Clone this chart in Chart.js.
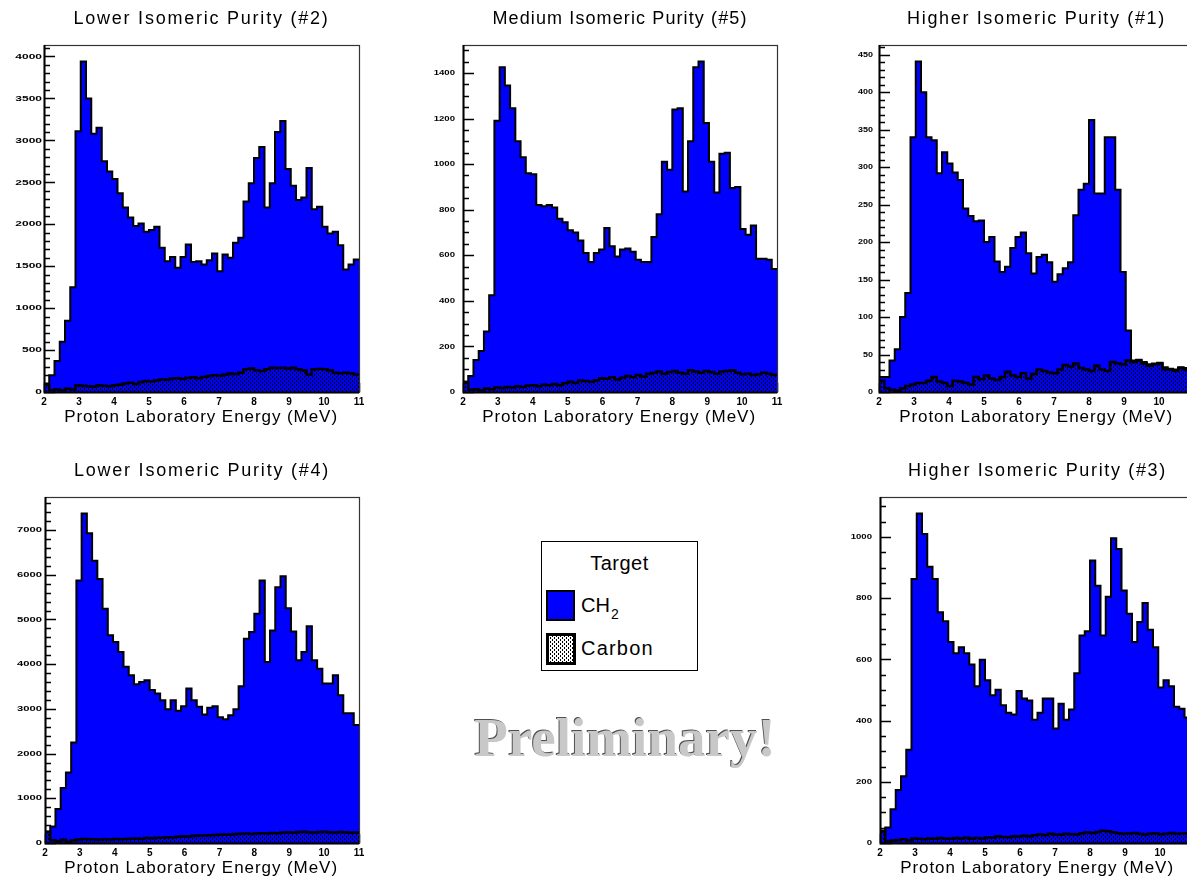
<!DOCTYPE html>
<html>
<head>
<meta charset="utf-8">
<title>Proton spectra by isomeric purity</title>
<script src="https://cdn.jsdelivr.net/npm/chart.js@4.4.0/dist/chart.umd.min.js"></script>
<style>
    html, body { margin: 0; padding: 0; background: #fff; overflow: hidden; }
    #page { position: relative; width: 1187px; height: 882px; overflow: hidden; background: #fff; }
    canvas.panel { position: absolute; }
    .lg { position: absolute; font-family: Arial, "Liberation Sans", sans-serif; font-size: 20px; color: #000; line-height: 24px; white-space: nowrap; }
    #legend-box { position: absolute; left: 541px; top: 541px; width: 157px; height: 130px; box-sizing: border-box; border: 1.5px solid #000; }
    #sw-ch2 { position: absolute; left: 546px; top: 590px; width: 29px; height: 31px; box-sizing: border-box; background: #0000ff; border: 2px solid #000; }
    #sw-carbon { position: absolute; left: 546px; top: 633px; }
    #prelim { position: absolute; left: 380px; width: 490px; top: 708px; text-align: center; font-family: "Liberation Serif", "DejaVu Serif", serif; font-weight: bold; font-size: 55px; line-height: 60px; color: #c8c8c8; text-shadow: -1px -1px 0 #505050; }
</style>
</head>
<body>
<div id="page">
    <canvas id="c1" class="panel" width="400" height="440" style="left:0px;top:0px"></canvas>
    <canvas id="c2" class="panel" width="400" height="440" style="left:415px;top:0px"></canvas>
    <canvas id="c3" class="panel" width="400" height="440" style="left:835px;top:0px"></canvas>
    <canvas id="c4" class="panel" width="400" height="432" style="left:0px;top:450px"></canvas>
    <canvas id="c6" class="panel" width="400" height="432" style="left:835px;top:450px"></canvas>

    <div id="legend-box"></div>
    <div class="lg" style="left:541px;width:157px;text-align:center;top:551px;letter-spacing:0.5px">Target</div>
    <div id="sw-ch2"></div>
    <div class="lg" style="left:581px;top:593px">CH<span style="font-size:14px;position:relative;top:7px;left:1px">2</span></div>
    <canvas id="sw-carbon" width="30" height="32"></canvas>
    <div class="lg" style="left:581px;top:636px;letter-spacing:1.2px">Carbon</div>

    <div id="prelim">Preliminary!</div>
</div>

<script>
// ==========================================
// 1. DATA: 60 bins of 0.15 MeV from 2 to 11 MeV
// ==========================================

const energyMin = 2;
const energyMax = 11;
const nBins = 60;
const energyTicks = [2, 3, 4, 5, 6, 7, 8, 9, 10, 11];

// Lower isomeric purity (#2)
const ch2Purity2 = [100, 200, 370, 600, 850, 1250, 3110, 3940, 3500, 3080,
    3150, 2750, 2630, 2540, 2370, 2200, 2080, 1980, 2010, 1910,
    1930, 1970, 1720, 1560, 1610, 1480, 1610, 1760, 1550, 1560,
    1520, 1570, 1650, 1440, 1640, 1600, 1780, 1840, 2270, 2490,
    2790, 2920, 2200, 2490, 3100, 3230, 2660, 2460, 2290, 2320,
    2670, 2180, 2210, 1970, 1890, 1910, 1750, 1460, 1520, 1580];
const carbonPurity2 = [90, 20, 30, 20, 40, 30, 80, 75, 70, 65,
    80, 75, 70, 80, 85, 100, 110, 95, 120, 130,
    125, 140, 150, 145, 160, 165, 155, 170, 175, 165,
    180, 190, 200, 195, 210, 220, 215, 230, 270, 280,
    260, 250, 270, 290, 285, 290, 280, 290, 270, 260,
    210, 270, 275, 270, 260, 230, 225, 230, 220, 210];
const yTicksPurity2 = [0, 500, 1000, 1500, 2000, 2500, 3000, 3500, 4000];

// Medium isomeric purity (#5)
const ch2Purity5 = [45, 70, 140, 180, 265, 425, 1190, 1425, 1345, 1245,
    1100, 1030, 960, 955, 820, 815, 820, 810, 760, 745,
    710, 700, 665, 610, 570, 610, 625, 720, 640, 595,
    625, 630, 615, 580, 570, 570, 680, 780, 1010, 975,
    1240, 1245, 880, 1100, 1425, 1450, 1180, 1010, 875, 1045,
    1050, 895, 900, 715, 690, 730, 585, 585, 580, 540];
const carbonPurity5 = [40, 10, 12, 8, 15, 12, 20, 18, 22, 20,
    25, 22, 28, 30, 25, 32, 30, 35, 30, 38,
    45, 40, 50, 48, 45, 52, 60, 58, 65, 55,
    62, 70, 65, 75, 68, 80, 85, 90, 80, 88,
    92, 85, 80, 95, 90, 85, 92, 88, 80, 90,
    92, 95, 85, 78, 80, 75, 78, 85, 80, 75];
const yTicksPurity5 = [0, 200, 400, 600, 800, 1000, 1200, 1400];

// Higher isomeric purity (#1)
const ch2Purity1 = [20, 20, 42, 57, 100, 132, 340, 441, 400, 340,
    336, 292, 320, 305, 293, 283, 245, 235, 228, 229,
    200, 207, 174, 160, 167, 192, 207, 213, 185, 158,
    180, 183, 173, 147, 157, 165, 173, 236, 270, 278,
    363, 265, 265, 340, 340, 270, 160, 82, 42, 43,
    40, 37, 38, 39, 33, 31, 30, 33, 32, 30];
const carbonPurity1 = [15, 5, 3, 2, 5, 8, 10, 12, 12, 15,
    20, 14, 12, 8, 15, 14, 12, 10, 20, 17,
    22, 18, 16, 20, 27, 22, 20, 25, 18, 24,
    30, 28, 26, 25, 30, 36, 34, 38, 32, 30,
    28, 35, 30, 28, 40, 38, 37, 42, 40, 42,
    38, 35, 37, 38, 30, 30, 28, 32, 30, 29];
const yTicksPurity1 = [0, 50, 100, 150, 200, 250, 300, 350, 400, 450];

// Lower isomeric purity (#4)
const ch2Purity4 = [250, 370, 760, 1230, 1575, 2245, 5870, 7370, 6930, 6315,
    5905, 5240, 4645, 4495, 4270, 3940, 3750, 3550, 3600, 3640,
    3420, 3345, 3195, 2990, 3195, 2960, 3060, 3455, 3195, 3045,
    2875, 3025, 3060, 2810, 2765, 2860, 2990, 3505, 4570, 4720,
    5125, 5870, 4050, 4755, 5720, 5965, 5250, 4730, 4085, 4270,
    4845, 4085, 3900, 3565, 3565, 3750, 3305, 2900, 2900, 2640];
const carbonPurity4 = [250, 60, 40, 70, 30, 60, 80, 90, 85, 80,
    75, 85, 80, 90, 85, 90, 95, 100, 90, 110,
    105, 115, 120, 130, 125, 140, 150, 145, 160, 170,
    165, 175, 180, 185, 190, 185, 200, 205, 210, 200,
    215, 220, 210, 225, 220, 235, 240, 230, 245, 250,
    240, 235, 245, 250, 240, 235, 245, 240, 230, 235];
const yTicksPurity4 = [0, 1000, 2000, 3000, 4000, 5000, 6000, 7000];

// Higher isomeric purity (#3)
const ch2Purity3 = [37, 51, 110, 173, 218, 305, 863, 1077, 1010, 903,
    863, 754, 725, 657, 620, 640, 620, 583, 512, 599,
    532, 483, 501, 450, 426, 420, 497, 472, 466, 403,
    426, 472, 472, 374, 455, 403, 436, 555, 678, 692,
    923, 841, 678, 805, 996, 961, 825, 749, 657, 722,
    784, 697, 640, 508, 532, 512, 445, 439, 410, 400];
const carbonPurity3 = [40, 5, 8, 10, 12, 8, 15, 14, 12, 15,
    14, 16, 15, 14, 16, 15, 17, 14, 16, 15,
    18, 17, 22, 20, 19, 22, 21, 24, 22, 25,
    28, 26, 30, 28, 27, 30, 29, 28, 32, 35,
    33, 36, 40, 38, 35, 32, 30, 31, 33, 30,
    28, 30, 32, 29, 30, 33, 30, 31, 32, 30];
const yTicksPurity3 = [0, 200, 400, 600, 800, 1000];

// ==========================================
// 2. HELPERS
// ==========================================

const binEdges = [];
for (let i = 0; i <= nBins; i++) {
    binEdges.push(energyMin + i * (energyMax - energyMin) / nBins);
}

// bin k holds its value from edge k to edge k+1 (stepped 'before')
function toSteps(values) {
    const pts = values.map((v, i) => ({ x: binEdges[i], y: v }));
    pts.push({ x: binEdges[nBins], y: values[nBins - 1] });
    return pts;
}

// dotted fill used for the carbon target, transparent between dots
function dotPattern(ctx) {
    const tile = document.createElement('canvas');
    tile.width = 4;
    tile.height = 4;
    const t = tile.getContext('2d');
    t.fillStyle = '#000';
    t.fillRect(0, 0, 1, 2);
    t.fillRect(2, 2, 1, 2);
    return ctx.createPattern(tile, 'repeat');
}

// draw a string stretched by letter spacing to a given width
function spacedText(ctx, text, x, y, width, align) {
    ctx.letterSpacing = '0px';
    const natural = ctx.measureText(text).width;
    let drawn = natural;
    if ('letterSpacing' in ctx) {
        const ls = (width - natural) / text.length;
        ctx.letterSpacing = ls.toFixed(2) + 'px';
        drawn = ctx.measureText(text).width;
    }
    let x0 = x;
    if (align === 'center') x0 = x - drawn / 2;
    else if (align === 'right') x0 = x - drawn;
    ctx.textAlign = 'left';
    ctx.fillText(text, x0, y);
    ctx.letterSpacing = '0px';
}

// ==========================================
// 3. FRAME, TICKS AND LABELS PLUGIN
// ==========================================

const histFrame = {
    id: 'histFrame',
    beforeDatasetsDraw(chart, args, o) {
        const ctx = chart.ctx, a = chart.chartArea;
        const xs = chart.scales.x, ys = chart.scales.y;
        ctx.save();
        ctx.strokeStyle = '#000';
        ctx.lineWidth = 1.5;
        ctx.beginPath();
        // y ticks point into the frame from the left axis
        const nMinor = Math.floor(ys.max / o.yMinor + 1e-6);
        for (let i = 0; i <= nMinor; i++) {
            const v = i * o.yMinor;
            const py = Math.round(ys.getPixelForValue(v)) + 0.5;
            const len = (v % o.yMajor === 0) ? 11 : 6;
            ctx.moveTo(a.left, py);
            ctx.lineTo(a.left + len, py);
        }
        // x ticks point up from the bottom axis
        energyTicks.forEach(v => {
            const px = Math.round(xs.getPixelForValue(v)) + 0.5;
            ctx.moveTo(px, a.bottom);
            ctx.lineTo(px, a.bottom - 9);
        });
        ctx.stroke();
        ctx.restore();
    },
    afterDraw(chart, args, o) {
        const ctx = chart.ctx, a = chart.chartArea;
        const xs = chart.scales.x, ys = chart.scales.y;
        ctx.save();

        // frame
        ctx.strokeStyle = '#333';
        ctx.lineWidth = 1.2;
        ctx.strokeRect(a.left + 0.5, a.top + 0.5, a.right - a.left, a.bottom - a.top);
        ctx.strokeStyle = '#000';
        ctx.lineWidth = 2;
        ctx.beginPath();
        ctx.moveTo(a.left + 0.5, a.top);
        ctx.lineTo(a.left + 0.5, a.bottom + 0.5);
        ctx.lineTo(a.right, a.bottom + 0.5);
        ctx.stroke();

        ctx.fillStyle = '#000';
        ctx.textBaseline = 'middle';

        // y tick labels: small squat digits
        ctx.font = 'bold 8px Arial, "Liberation Sans", sans-serif';
        o.yLabels.forEach(v => {
            const py = ys.getPixelForValue(v);
            ctx.save();
            ctx.translate(a.left - o.yLabelGap, py);
            ctx.scale(o.yLabelStretch, 1);
            ctx.textAlign = 'right';
            ctx.fillText(String(v), 0, 0);
            ctx.restore();
        });

        // x tick labels
        ctx.font = 'bold 10px Arial, "Liberation Sans", sans-serif';
        ctx.textAlign = 'center';
        energyTicks.forEach(v => {
            ctx.fillText(String(v), xs.getPixelForValue(v), a.bottom + 10);
        });

        // axis title, right aligned
        ctx.font = '17px Arial, "Liberation Sans", sans-serif';
        spacedText(ctx, 'Proton Laboratory Energy (MeV)', a.right - 21, a.bottom + 25, 274, 'right');

        // panel title
        ctx.font = '18px Arial, "Liberation Sans", sans-serif';
        spacedText(ctx, o.title, (a.left + a.right) / 2, a.top - 26, o.titleWidth, 'center');

        ctx.restore();
    }
};

// ==========================================
// 4. PANELS
// ==========================================

function makePanel(id, cfg) {
    const canvas = document.getElementById(id);
    const ctx = canvas.getContext('2d');
    const ymax = 1.05 * Math.max(...cfg.ch2);
    return new Chart(ctx, {
        type: 'line',
        data: {
            datasets: [
                {
                    label: 'Carbon',
                    data: toSteps(cfg.carbon),
                    stepped: 'before',
                    fill: 'origin',
                    backgroundColor: dotPattern(ctx),
                    borderColor: '#000',
                    borderWidth: 2.5,
                    pointRadius: 0,
                    order: 0
                },
                {
                    label: 'CH2',
                    data: toSteps(cfg.ch2),
                    stepped: 'before',
                    fill: 'origin',
                    backgroundColor: '#0000ff',
                    borderColor: '#000',
                    borderWidth: 2,
                    pointRadius: 0,
                    order: 1
                }
            ]
        },
        options: {
            responsive: false,
            animation: false,
            devicePixelRatio: 1,
            events: [],
            layout: { padding: cfg.padding },
            scales: {
                x: { type: 'linear', min: energyMin, max: energyMax, display: false },
                y: { type: 'linear', min: 0, max: ymax, display: false }
            },
            plugins: {
                legend: { display: false },
                tooltip: { enabled: false },
                histFrame: {
                    title: cfg.title,
                    titleWidth: cfg.titleWidth,
                    yLabels: cfg.yTicks,
                    yMajor: cfg.yTicks[1],
                    yMinor: cfg.yMinor,
                    yLabelGap: cfg.yLabelGap,
                    yLabelStretch: cfg.yLabelStretch
                }
            }
        },
        plugins: [histFrame]
    });
}

makePanel('c1', {
    title: 'Lower Isomeric Purity (#2)', titleWidth: 256,
    ch2: ch2Purity2, carbon: carbonPurity2, yTicks: yTicksPurity2, yMinor: 100,
    yLabelGap: 2, yLabelStretch: 1.5,
    padding: { left: 44, top: 45, right: 41, bottom: 48 }
});
makePanel('c2', {
    title: 'Medium Isomeric Purity (#5)', titleWidth: 255,
    ch2: ch2Purity5, carbon: carbonPurity5, yTicks: yTicksPurity5, yMinor: 50,
    yLabelGap: 8, yLabelStretch: 1.2,
    padding: { left: 48, top: 45, right: 38, bottom: 48 }
});
makePanel('c3', {
    title: 'Higher Isomeric Purity (#1)', titleWidth: 259,
    ch2: ch2Purity1, carbon: carbonPurity1, yTicks: yTicksPurity1, yMinor: 10,
    yLabelGap: 6, yLabelStretch: 1.12,
    padding: { left: 44, top: 45, right: 41, bottom: 48 }
});
makePanel('c4', {
    title: 'Lower Isomeric Purity (#4)', titleWidth: 256,
    ch2: ch2Purity4, carbon: carbonPurity4, yTicks: yTicksPurity4, yMinor: 200,
    yLabelGap: 3, yLabelStretch: 1.4,
    padding: { left: 45, top: 47, right: 41, bottom: 39 }
});
makePanel('c6', {
    title: 'Higher Isomeric Purity (#3)', titleWidth: 259,
    ch2: ch2Purity3, carbon: carbonPurity3, yTicks: yTicksPurity3, yMinor: 50,
    yLabelGap: 8, yLabelStretch: 1.2,
    padding: { left: 45, top: 47, right: 40, bottom: 39 }
});

// legend swatch for the carbon target
(function () {
    const sw = document.getElementById('sw-carbon').getContext('2d');
    sw.fillStyle = '#fff';
    sw.fillRect(0, 0, 30, 32);
    sw.fillStyle = dotPattern(sw);
    sw.fillRect(0, 0, 30, 32);
    sw.strokeStyle = '#000';
    sw.lineWidth = 3;
    sw.strokeRect(1.5, 1.5, 27, 29);
})();
</script>
</body>
</html>
